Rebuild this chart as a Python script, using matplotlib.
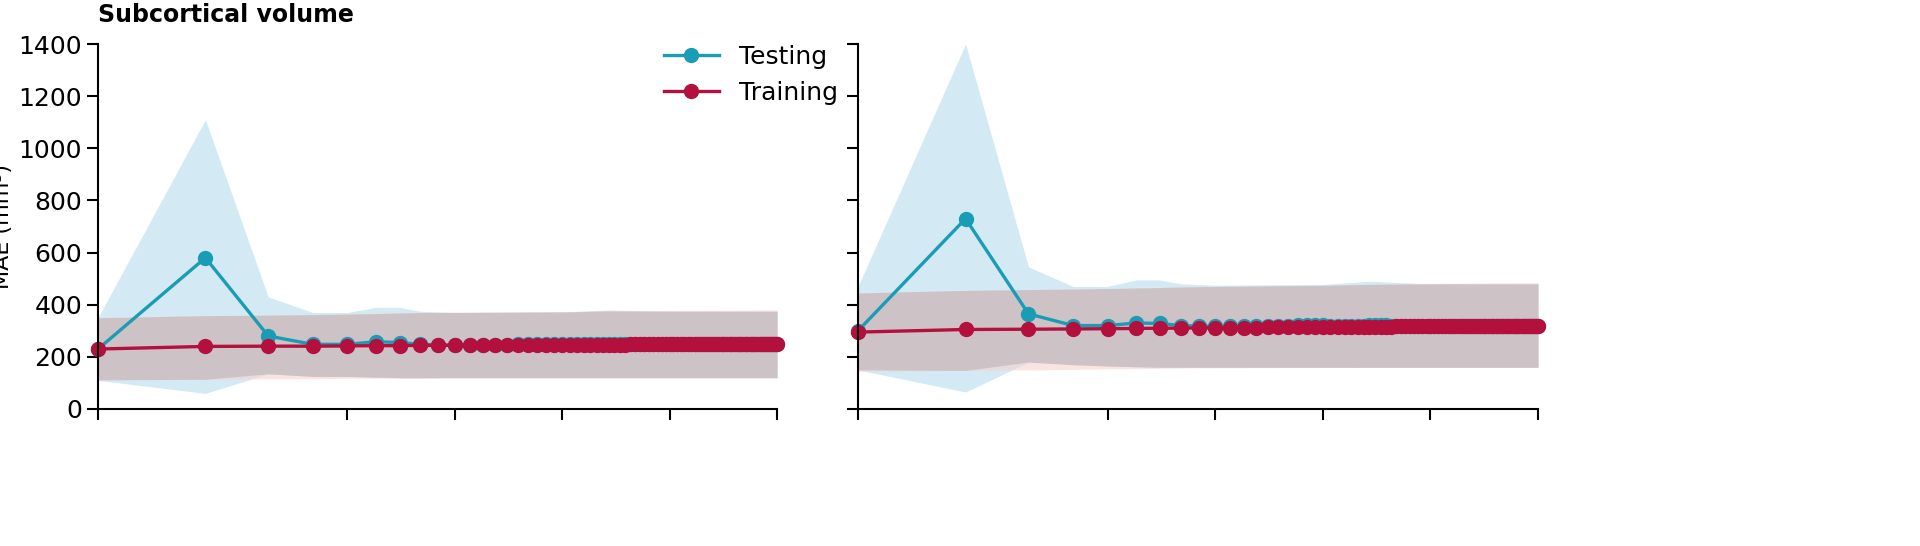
import matplotlib
matplotlib.use("Agg")
import matplotlib.pyplot as plt

x = list(range(1, 81))
# Left panel
test_L = [230, 580, 280, 248, 248, 258, 255, 248, 246, 246, 246, 247, 247, 247, 248, 248, 249, 250, 249, 248,
          248, 248, 248, 248, 248, 248, 249, 249, 249, 249, 248, 248, 248, 248, 248, 248, 248, 248, 248, 248,
          248, 248, 248, 248, 248, 248, 248, 248, 248, 248, 248, 248, 248, 248, 248, 248, 248, 248, 248, 248,
          248, 248, 248, 248, 248, 248, 248, 248, 248, 248, 248, 248, 248, 248, 248, 248, 248, 248, 248, 248]
train_L = [230, 240, 241, 241, 242, 243, 243, 244, 244, 244, 245, 245, 245, 245, 246, 246, 246, 246, 246, 246,
           247, 247, 247, 247, 247, 247, 247, 247, 247, 247, 248, 248, 248, 248, 248, 248, 248, 248, 248, 248,
           248, 248, 248, 248, 249, 249, 249, 249, 249, 249, 249, 249, 249, 249, 249, 249, 249, 249, 249, 249,
           250, 250, 250, 250, 250, 250, 250, 250, 250, 250, 250, 250, 250, 250, 250, 250, 250, 250, 250, 250]
band_x = [1, 2, 3, 4, 5, 6, 7, 8, 10, 20, 27, 40, 80]
test_hi_L = [350, 1110, 430, 370, 370, 390, 390, 375, 370, 372, 380, 375, 375]
test_lo_L = [110, 60, 135, 125, 125, 122, 120, 120, 120, 120, 120, 120, 120]
train_hi_L = [352, 358, 360, 362, 364, 366, 368, 370, 372, 374, 376, 378, 380]
train_lo_L = [112, 114, 116, 116, 118, 118, 118, 118, 120, 120, 120, 120, 120]
# Right panel
test_R = [300, 730, 365, 320, 320, 330, 328, 320, 318, 318, 318, 318, 319, 319, 320, 320, 321, 322, 322, 321,
          320, 320, 320, 320, 320, 320, 321, 322, 322, 321, 320, 320, 320, 320, 320, 320, 320, 320, 320, 320,
          320, 320, 320, 320, 320, 320, 320, 320, 320, 320, 320, 320, 320, 320, 320, 320, 320, 320, 320, 320,
          320, 320, 320, 320, 320, 320, 320, 320, 320, 320, 320, 320, 320, 320, 320, 320, 320, 320, 320, 320]
train_R = [295, 305, 306, 307, 308, 309, 310, 310, 311, 311, 312, 312, 312, 313, 313, 313, 314, 314, 314, 314,
           315, 315, 315, 315, 315, 316, 316, 316, 316, 316, 316, 317, 317, 317, 317, 317, 317, 317, 318, 318,
           318, 318, 318, 318, 318, 318, 318, 319, 319, 319, 319, 319, 319, 319, 319, 319, 319, 319, 320, 320,
           320, 320, 320, 320, 320, 320, 320, 320, 320, 320, 320, 320, 320, 320, 320, 320, 320, 320, 320, 320]
test_hi_R = [470, 1400, 545, 470, 470, 495, 495, 480, 475, 478, 490, 480, 480]
test_lo_R = [150, 65, 180, 170, 165, 162, 160, 160, 160, 160, 160, 160, 160]
train_hi_R = [445, 455, 458, 460, 462, 464, 466, 468, 470, 474, 478, 482, 485]
train_lo_R = [145, 148, 150, 152, 154, 155, 156, 157, 158, 159, 160, 160, 160]

x_ticks = [1, 5, 10, 20, 40, 80]
y_ticks = [0, 200, 400, 600, 800, 1000, 1200, 1400]

C_TEST = "#1a9cb5"
C_TRAIN = "#b3103e"

fig = plt.figure(figsize=(19.2, 5.46), dpi=100)
axL = fig.add_axes([98/1920, 137/546, 679/1920, 365/546])
axR = fig.add_axes([858/1920, 137/546, 680/1920, 365/546])

for ax, t, tr, th, tl, rh, rl in [(axL, test_L, train_L, test_hi_L, test_lo_L, train_hi_L, train_lo_L),
                                 (axR, test_R, train_R, test_hi_R, test_lo_R, train_hi_R, train_lo_R)]:
    ax.fill_between(band_x, tl, th, color="#d3e9f4", lw=0)
    ax.fill_between(band_x, rl, rh, color="#f6d3cf", lw=0, alpha=0.6)
    ax.fill_between(band_x, [max(a, b) for a, b in zip(tl, rl)], [min(a, b) for a, b in zip(th, rh)],
                    color="#cdc3c7", lw=0)
    ax.plot(x, t, color=C_TEST, lw=2.4, marker="o", ms=10, label="Testing")
    ax.plot(x, tr, color=C_TRAIN, lw=2.4, marker="o", ms=10, label="Training")
    ax.set_xscale("log", base=2)
    ax.set_xlim(1, 80)
    ax.set_ylim(0, 1400)
    ax.set_xticks(x_ticks)
    ax.set_xticklabels([])
    ax.minorticks_off()
    ax.set_yticks(y_ticks)
    for s in ["top", "right"]:
        ax.spines[s].set_visible(False)
    for s in ["left", "bottom"]:
        ax.spines[s].set_linewidth(1.5)
        ax.spines[s].set_clip_on(False)
    ax.tick_params(direction="out", length=8, width=1.5, labelsize=18)
    for l in ax.get_lines():
        l.set_clip_on(False)

axR.set_yticklabels([])
axL.set_ylabel("MAE (mm³)", fontsize=16)
axL.legend(loc="upper left", bbox_to_anchor=(0.8, 1.06), frameon=False, fontsize=18,
           handlelength=2.2, markerscale=1.0)
fig.text(98/1920, 1 - 15/546, "Subcortical volume", fontsize=17, fontweight="bold", va="center")
fig.savefig("out.png", dpi=100)
